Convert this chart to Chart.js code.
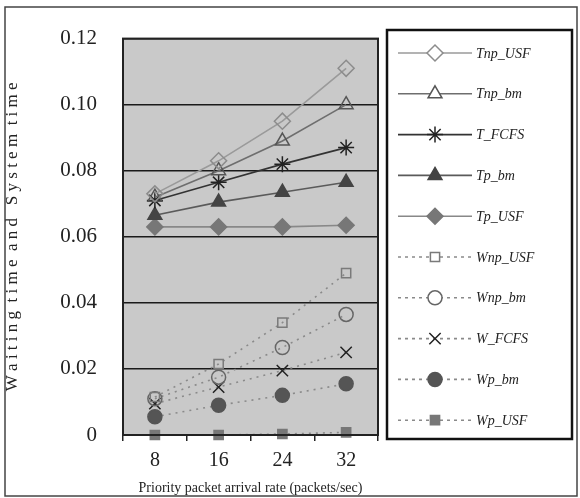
<!DOCTYPE html>
<html>
<head>
<meta charset="utf-8">
<script src="https://cdn.jsdelivr.net/npm/chart.js@4"></script>
<style>
  html, body { margin: 0; padding: 0; background: #fff; }
  #wrap { width: 580px; height: 498px; }
</style>
</head>
<body>
<div id="wrap"><canvas id="chart" width="580" height="498"></canvas></div>
<script>
// x categories (packets/sec)
const categories = ['8', '16', '24', '32'];

// system times
const tnpUSF = [0.073, 0.083, 0.095, 0.111];
const tnpBm  = [0.072, 0.080, 0.089, 0.100];
const tFCFS  = [0.071, 0.0765, 0.082, 0.087];
const tpBm   = [0.0665, 0.0705, 0.0735, 0.0765];
const tpUSF  = [0.063, 0.063, 0.063, 0.0635];

// waiting times
const wnpUSF = [0.0115, 0.0215, 0.034, 0.049];
const wnpBm  = [0.011, 0.0175, 0.0265, 0.0365];
const wFCFS  = [0.0095, 0.0145, 0.0195, 0.025];
const wpBm   = [0.0055, 0.009, 0.012, 0.0155];
const wpUSF  = [0, 0, 0.0003, 0.0008];

const yTicks = [0, 0.02, 0.04, 0.06, 0.08, 0.10, 0.12];

function solid(label, data, line, pt, style, fill, r) {
  return {
    label, data,
    borderColor: line, borderWidth: 1.6,
    pointStyle: style, pointRadius: r, pointHoverRadius: r,
    pointBorderColor: pt, pointBackgroundColor: fill, pointBorderWidth: 1.5,
    fill: false, tension: 0, clip: false
  };
}
function dotted(label, data, pt, style, fill, r) {
  return {
    label, data,
    borderColor: '#8a8a8a', borderWidth: 1.6, borderDash: [2, 5],
    pointStyle: style, pointRadius: r, pointHoverRadius: r,
    pointBorderColor: pt, pointBackgroundColor: fill, pointBorderWidth: 1.5,
    fill: false, tension: 0, clip: false
  };
}

const datasets = [
  solid('Tnp_USF', tnpUSF, '#9a9a9a', '#8c8c8c', 'rectRot', 'rgba(0,0,0,0)', 8),
  solid('Tnp_bm',  tnpBm,  '#6e6e6e', '#555555', 'triangle', 'rgba(0,0,0,0)', 8),
  solid('T_FCFS',  tFCFS,  '#333333', '#222222', 'star', '#222222', 8),
  solid('Tp_bm',   tpBm,   '#5a5a5a', '#444444', 'triangle', '#444444', 8),
  solid('Tp_USF',  tpUSF,  '#888888', '#777777', 'rectRot', '#777777', 8),
  dotted('Wnp_USF', wnpUSF, '#7a7a7a', 'rect', 'rgba(0,0,0,0)', 6.5),
  dotted('Wnp_bm',  wnpBm,  '#666666', 'circle', 'rgba(0,0,0,0)', 7),
  dotted('W_FCFS',  wFCFS,  '#222222', 'crossRot', '#222222', 8),
  dotted('Wp_bm',   wpBm,   '#555555', 'circle', '#555555', 7),
  dotted('Wp_USF',  wpUSF,  '#777777', 'rect', '#777777', 6.5)
];

// plot background, frames and the boxed legend
const decor = {
  id: 'decor',
  beforeDraw(chart) {
    const { ctx, chartArea: a } = chart;
    ctx.save();
    ctx.fillStyle = '#c9c9c9';
    ctx.fillRect(a.left, a.top, a.right - a.left, a.bottom - a.top);
    ctx.restore();
  },
  afterDraw(chart) {
    const { ctx, chartArea: a } = chart;
    ctx.save();
    // plot frame
    ctx.strokeStyle = '#222';
    ctx.lineWidth = 2;
    ctx.strokeRect(a.left, a.top, a.right - a.left, a.bottom - a.top);
    // outer frame
    ctx.strokeStyle = '#444';
    ctx.lineWidth = 1.5;
    ctx.strokeRect(5, 7, 572, 489);
    // legend box
    ctx.strokeStyle = '#111';
    ctx.lineWidth = 2.5;
    ctx.strokeRect(387, 30, 185, 409);

    chart.data.datasets.forEach((ds, i) => {
      const y = 53 + i * 40.8;
      ctx.save();
      ctx.strokeStyle = ds.borderDash ? '#8a8a8a' : ds.borderColor;
      ctx.lineWidth = 1.6;
      ctx.setLineDash(ds.borderDash ? [3, 4] : []);
      ctx.beginPath();
      ctx.moveTo(398, y);
      ctx.lineTo(472, y);
      ctx.stroke();
      ctx.restore();
      ctx.save();
      ctx.fillStyle = ds.pointBackgroundColor === 'rgba(0,0,0,0)' ? '#fff' : ds.pointBackgroundColor;
      ctx.strokeStyle = ds.pointBorderColor;
      ctx.lineWidth = 1.5;
      Chart.helpers.drawPoint(ctx, {
        pointStyle: ds.pointStyle, radius: ds.pointRadius, rotation: 0, borderWidth: 1.5
      }, 435, y);
      ctx.restore();
      ctx.fillStyle = '#222';
      ctx.font = 'italic 14px "Liberation Serif", serif';
      ctx.textBaseline = 'middle';
      ctx.fillText(ds.label, 476, y + 1);
    });
    ctx.restore();
  }
};

new Chart(document.getElementById('chart'), {
  type: 'line',
  data: { labels: categories, datasets },
  plugins: [decor],
  options: {
    responsive: false,
    animation: false,
    layout: { padding: { top: 29, right: 202, left: 0, bottom: 0 } },
    plugins: { legend: { display: false }, tooltip: { enabled: false } },
    scales: {
      x: {
        offset: true,
        grid: { display: true, drawOnChartArea: false, offset: true, tickLength: 6, color: '#222', lineWidth: 1.5 },
        border: { display: true, color: '#222', width: 2 },
        ticks: { padding: 8, color: '#222', font: { family: '"Liberation Serif", serif', size: 20 } },
        title: {
          display: true,
          text: 'Priority packet arrival rate (packets/sec)',
          color: '#222',
          font: { family: '"Liberation Serif", serif', size: 14 },
          padding: { top: 0, bottom: 1 }
        },
        afterFit(scale) { scale.height = 63; }
      },
      y: {
        min: 0, max: 0.12,
        afterBuildTicks(scale) { scale.ticks = yTicks.map(v => ({ value: v })); },
        grid: { color: '#1a1a1a', lineWidth: 1.5, drawTicks: false },
        border: { display: true, color: '#222', width: 2 },
        ticks: {
          padding: 26, color: '#222',
          font: { family: '"Liberation Serif", serif', size: 21 },
          callback: v => (v === 0 ? '0' : v.toFixed(2))
        },
        title: {
          display: true,
          text: 'W a i t i n g  t i m e  a n d   S y s t e m  t i m e',
          color: '#222',
          font: { family: '"Liberation Serif", serif', size: 17 },
          padding: { top: 2, bottom: 0 }
        },
        afterFit(scale) { scale.width = 123; }
      }
    }
  }
});
</script>
</body>
</html>
